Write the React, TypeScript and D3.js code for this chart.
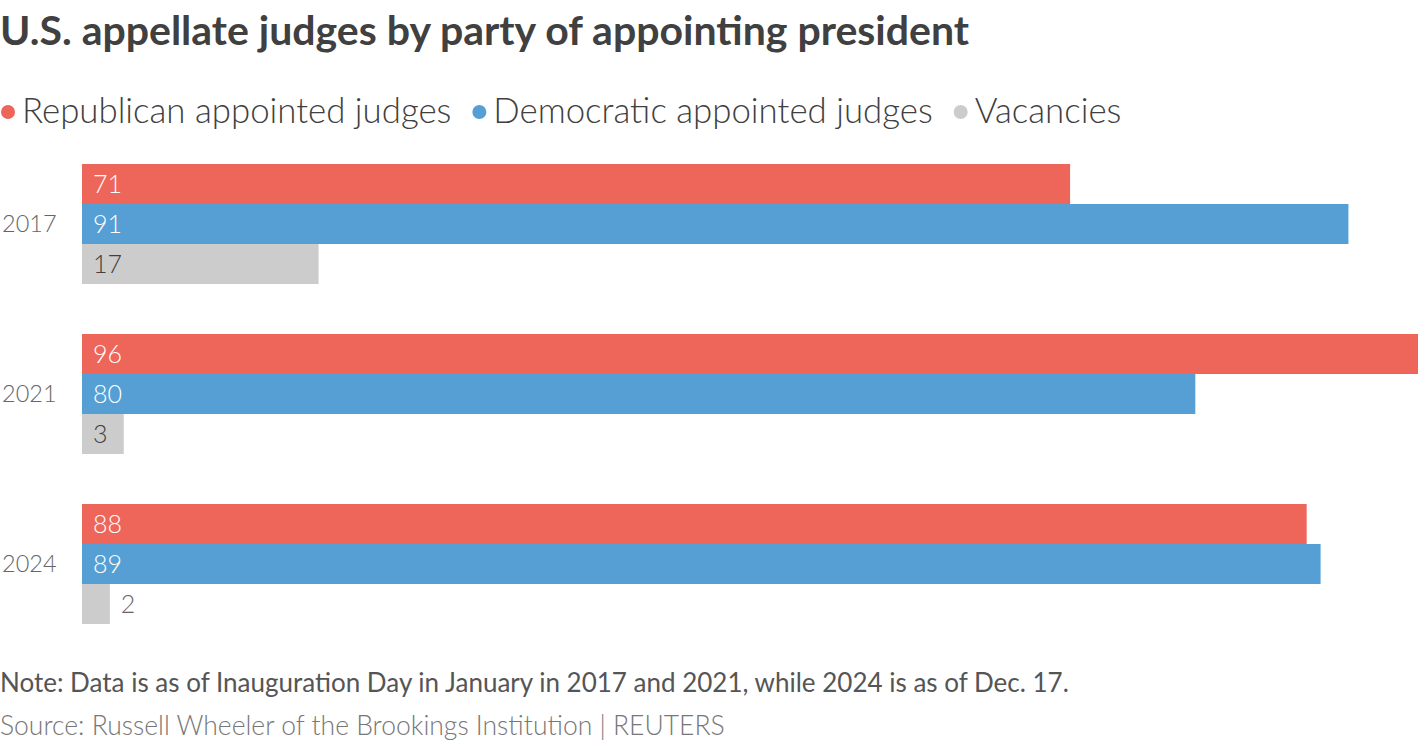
import { useEffect, useRef } from "react";
import * as d3 from "d3";

const YEARS = ["2017", "2021", "2024"];
const SERIES = ["Republican appointed judges", "Democratic appointed judges", "Vacancies"];
const REPUBLICAN = [71, 96, 88];
const DEMOCRATIC = [91, 80, 89];
const VACANCIES = [17, 3, 2];

const COLORS = ["#ee6559", "#559fd5", "#cccccc"];
const LABEL_COLORS = ["#ffffff", "#ffffff", "#404040"];

const TITLE = "U.S. appellate judges by party of appointing president";
const NOTE = "Note: Data is as of Inauguration Day in January in 2017 and 2021, while 2024 is as of Dec. 17.";
const SOURCE = "Source: Russell Wheeler of the Brookings Institution | REUTERS";

const W = 1420;
const H = 742;
const FONT = "Lato, 'Open Sans', sans-serif";

export default function App() {
  const svgRef = useRef<SVGSVGElement | null>(null);

  useEffect(() => {
    const svg = svgRef.current;
    if (!svg) return;
    svg.innerHTML = "";
    const root = d3.select(svg);

    const values = [REPUBLICAN, DEMOCRATIC, VACANCIES];

    const x = d3.scaleLinear().domain([0, 96]).range([82, 1418]);
    const y0 = d3
      .scaleBand()
      .domain(YEARS)
      .range([164, 624])
      .paddingInner(50 / 170)
      .paddingOuter(0);
    const y1 = d3
      .scaleBand()
      .domain(SERIES)
      .range([0, y0.bandwidth()]);

    // title
    root.append("text")
      .attr("x", 0).attr("y", 45)
      .attr("fill", "#404040")
      .style("font-family", FONT)
      .style("font-weight", 700)
      .style("font-size", "41px")
      .text(TITLE);

    // legend
    let lx = 0;
    SERIES.forEach((s, i) => {
      root.append("circle")
        .attr("cx", lx + 8).attr("cy", 112).attr("r", 7)
        .attr("fill", COLORS[i]);
      const t = root.append("text")
        .attr("x", lx + 22).attr("y", 123)
        .attr("fill", "#404040")
        .style("font-family", FONT)
        .style("font-weight", 300)
        .style("font-size", "34.8px")
        .text(s);
      const w = (t.node() as SVGTextElement).getComputedTextLength();
      lx = lx + 22 + w + 20;
    });

    // bars
    YEARS.forEach((yr, yi) => {
      const g = root.append("g").attr("transform", `translate(0,${y0(yr)})`);
      root.append("text")
        .attr("x", 2).attr("y", y0(yr)! + y0.bandwidth() / 2)
        .attr("dy", "0.36em")
        .attr("fill", "#666666")
        .style("font-family", FONT)
        .style("font-weight", 300)
        .style("font-size", "23.5px")
        .text(yr);
      SERIES.forEach((s, si) => {
        const v = values[si][yi];
        const bw = x(v) - x(0);
        g.append("rect")
          .attr("x", x(0)).attr("y", y1(s)!)
          .attr("width", bw).attr("height", y1.bandwidth())
          .attr("fill", COLORS[si]);
        const outside = bw < 30;
        g.append("text")
          .attr("x", outside ? x(v) + 11 : x(0) + 11)
          .attr("y", y1(s)! + y1.bandwidth() / 2)
          .attr("dy", "0.36em")
          .attr("fill", outside ? "#666666" : LABEL_COLORS[si])
          .style("font-family", FONT)
          .style("font-weight", 300)
          .style("font-size", "25px")
          .text(String(v));
      });
    });

    // footer
    root.append("text")
      .attr("x", 0).attr("y", 692)
      .attr("fill", "#555555")
      .style("font-family", FONT)
      .style("font-weight", 400)
      .style("font-size", "26px")
      .text(NOTE);
    root.append("text")
      .attr("x", 0).attr("y", 735)
      .attr("fill", "#777777")
      .style("font-family", FONT)
      .style("font-weight", 300)
      .style("font-size", "26.5px")
      .text(SOURCE);
  }, []);

  return (
    <svg
      ref={svgRef}
      width={W}
      height={H}
      style={{ position: "absolute", left: 0, top: 0, background: "#fff" }}
    />
  );
}
